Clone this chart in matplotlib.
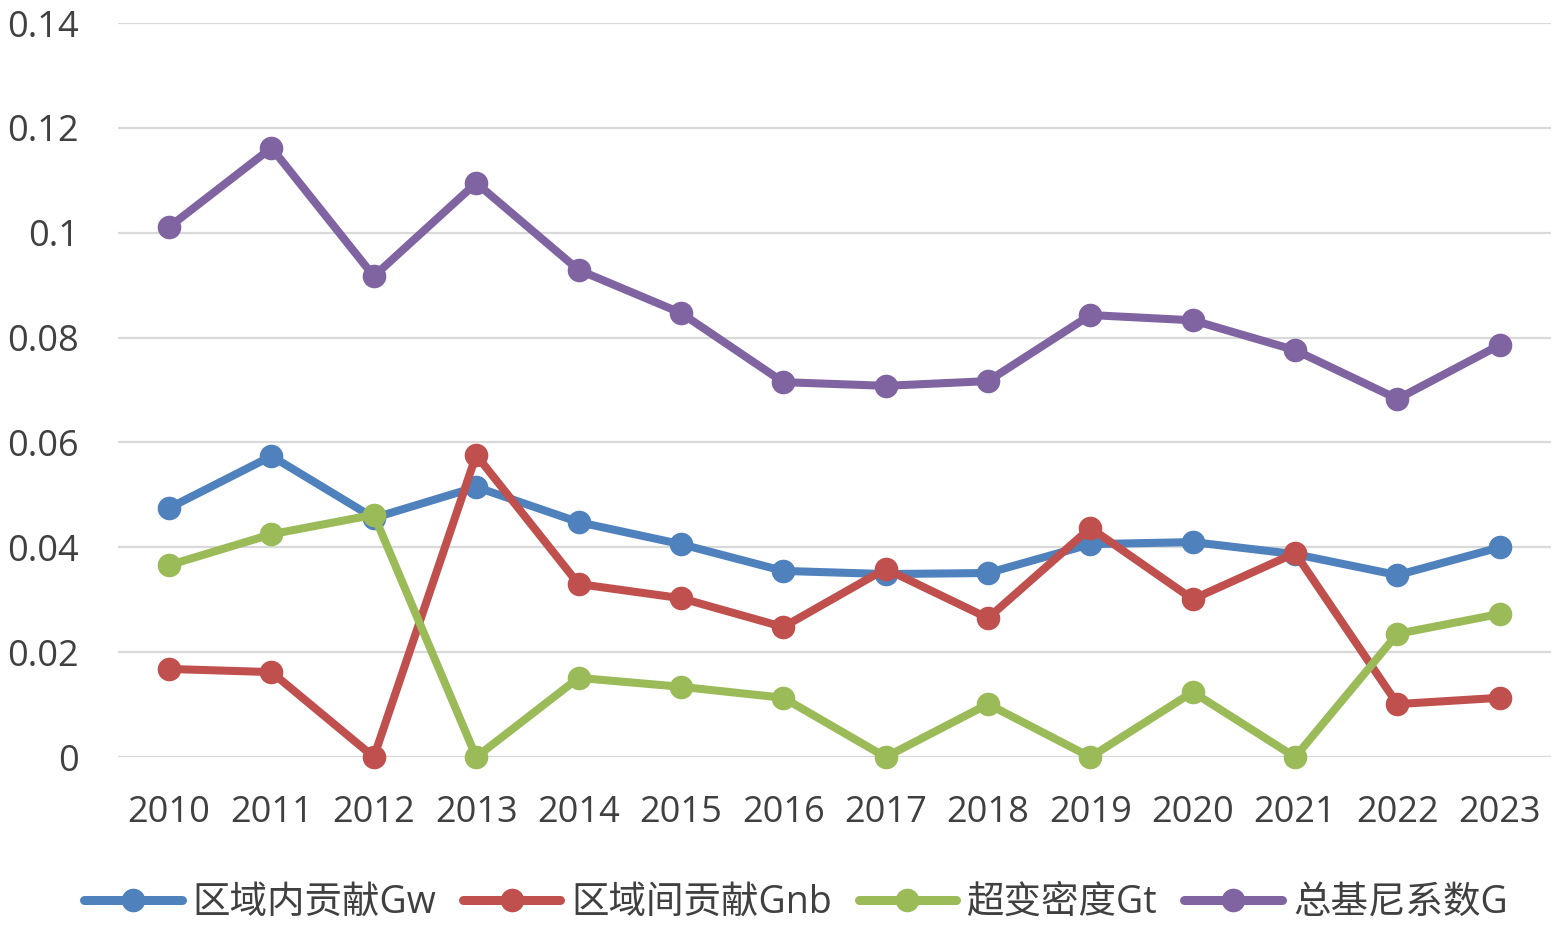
import matplotlib
matplotlib.use("Agg")
import matplotlib.pyplot as plt
from matplotlib.ticker import FuncFormatter

plt.rcParams['font.family'] = ['Open Sans', 'Noto Sans CJK SC', 'DejaVu Sans']

# data
years = ["2010", "2011", "2012", "2013", "2014", "2015", "2016",
         "2017", "2018", "2019", "2020", "2021", "2022", "2023"]

gw = [0.0475, 0.0574, 0.0456, 0.0515, 0.0448, 0.0406, 0.0355,
      0.0349, 0.0351, 0.0406, 0.0410, 0.0387, 0.0347, 0.0400]
gnb = [0.0168, 0.0162, 0.0, 0.0576, 0.0330, 0.0303, 0.0248,
       0.0359, 0.0265, 0.0437, 0.0301, 0.0389, 0.0101, 0.0113]
gt = [0.0366, 0.0425, 0.0462, 0.0, 0.0151, 0.0134, 0.0113,
      0.0, 0.0101, 0.0, 0.0124, 0.0, 0.0235, 0.0273]
g_total = [0.1011, 0.1162, 0.0917, 0.1095, 0.0929, 0.0847, 0.0715,
           0.0708, 0.0717, 0.0843, 0.0833, 0.0776, 0.0683, 0.0786]

series_names = ["区域内贡献Gw", "区域间贡献Gnb", "超变密度Gt", "总基尼系数G"]
series_values = [gw, gnb, gt, g_total]
colors = ["#4F81BD", "#C0504D", "#9BBB59", "#8064A2"]

y_ticks = [0, 0.02, 0.04, 0.06, 0.08, 0.1, 0.12, 0.14]

text_color = "#404040"

fig = plt.figure(figsize=(15.56, 9.36), dpi=100)
ax = fig.add_axes([0.0758, 0.1912, 0.921, 0.7842])

x = list(range(len(years)))
for name, vals, c in zip(series_names, series_values, colors):
    ax.plot(x, vals, color=c, lw=5.8, marker="o", markersize=17,
            markeredgewidth=0, label=name, solid_capstyle="round",
            clip_on=False)

ax.set_xlim(-0.5, len(years) - 0.5)
ax.set_ylim(0, 0.14)
ax.set_yticks(y_ticks)
ax.yaxis.set_major_formatter(FuncFormatter(lambda v, p: "{:g}".format(round(v, 2))))
ax.set_xticks(x)
ax.set_xticklabels(years)

# light gridlines only, no frame
for sp in ax.spines.values():
    sp.set_visible(False)
ax.grid(axis="y", color="#D9D9D9", lw=1.6)
ax.set_axisbelow(True)
ax.tick_params(axis="both", length=0, labelsize=26, colors=text_color)
ax.tick_params(axis="y", pad=28)
ax.tick_params(axis="x", pad=27)

leg = fig.legend(loc="center", bbox_to_anchor=(0.5115, 1 - 903 / 936), ncol=4,
                 frameon=False, fontsize=27, handlelength=2.6,
                 handletextpad=0.3, columnspacing=0.7, borderaxespad=0)
for t in leg.get_texts():
    t.set_color(text_color)
for h in leg.get_lines():
    h.set_linewidth(6.5)

fig.savefig("out.png", dpi=100)
